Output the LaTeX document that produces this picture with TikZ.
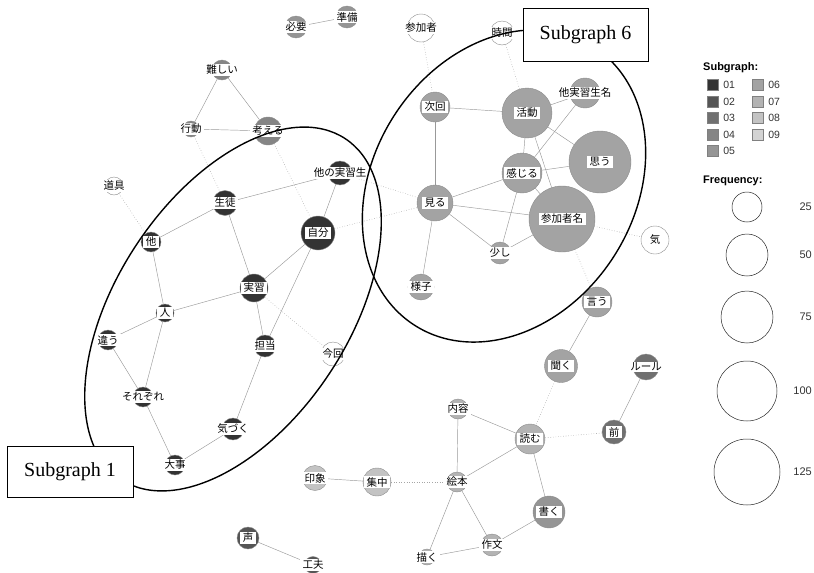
\documentclass[tikz,border=0pt]{standalone}
\usepackage{fontspec}
\setmainfont{Liberation Serif}
\setsansfont{Liberation Sans}
\newfontfamily\jpfont{Noto Sans CJK JP}
\usepackage{tikz}
\usetikzlibrary{shapes.geometric, backgrounds, positioning}
\definecolor{grpA}{HTML}{333333}
\definecolor{grpB}{HTML}{555555}
\definecolor{grpC}{HTML}{707070}
\definecolor{grpD}{HTML}{858585}
\definecolor{grpE}{HTML}{959595}
\definecolor{grpF}{HTML}{A3A3A3}
\definecolor{grpG}{HTML}{B3B3B3}
\definecolor{grpH}{HTML}{C3C3C3}
\definecolor{grpI}{HTML}{D3D3D3}
\tikzset{%
	word/.style={circle, draw=black!45, line width=0.4pt, inner sep=0pt},
	w1/.style={fill=grpA}, w2/.style={fill=grpB}, w3/.style={fill=grpC},
	w4/.style={fill=grpD}, w5/.style={fill=grpE}, w6/.style={fill=grpF},
	w7/.style={fill=grpG}, w8/.style={fill=grpH}, wn/.style={fill=white},
	tag/.style={fill=white, inner xsep=2.5pt, inner ysep=1.3pt,%
		font=\jpfont\fontsize{10.5}{10.5}\selectfont},
	link/.style={draw=black!40, line width=0.45pt},
	weak/.style={draw=black!35, dotted, line width=0.55pt},
	group/.style={draw, ellipse, line width=1.4pt, inner sep=0pt},
	caption/.style={draw, fill=white, line width=1pt, inner sep=0pt,%
		font=\fontsize{20}{20}\selectfont},
	keybox/.style={draw=black!50, line width=0.4pt, minimum size=11pt, inner sep=0pt},
	keytext/.style={anchor=west, inner sep=0pt, text=black!80, font=\sffamily\fontsize{10.5}{10.5}\selectfont},
	keyhead/.style={anchor=west, inner sep=0pt, font=\sffamily\bfseries\fontsize{11}{11}\selectfont},
	freq/.style={circle, draw=black!85, line width=0.5pt, inner sep=0pt}
}

\begin{document}
\begin{tikzpicture}[x=1pt, y=-1pt]
	\useasboundingbox (0,0) rectangle (814,573);

	% words
	\node[word, w5, minimum size=22pt, label={[tag]center:必要}] (hitsuyo) at (296,27) {};
	\node[word, w5, minimum size=22pt, label={[tag]center:準備}] (junbi) at (347,17) {};
	\node[word, wn, minimum size=28pt, label={[tag]center:参加者}] (sankasha) at (421,28) {};
	\node[word, wn, minimum size=24pt, label={[tag]center:時間}] (jikan) at (502,33) {};
	\node[word, w4, minimum size=20pt, label={[tag]center:難しい}] (muzukashii) at (222,70) {};
	\node[word, w4, minimum size=16pt, label={[tag]center:行動}] (kodo) at (191,129) {};
	\node[word, w4, minimum size=28pt, label={[tag]center:考える}] (kangaeru) at (268,131) {};
	\node[word, wn, minimum size=18pt, label={[tag]center:道具}] (dogu) at (114,186) {};
	\node[word, w1, minimum size=25pt, label={[tag]center:生徒}] (seito) at (225,203) {};
	\node[word, w1, minimum size=24pt, label={[tag]center:他の実習生}] (tanojisshusei) at (340,173) {};
	\node[word, w1, minimum size=34pt, label={[tag]center:自分}] (jibun) at (318,233) {};
	\node[word, w1, minimum size=20pt, label={[tag]center:他}] (hoka) at (151,242) {};
	\node[word, w1, minimum size=28pt, label={[tag]center:実習}] (jisshu) at (254,288) {};
	\node[word, w1, minimum size=18pt, label={[tag]center:人}] (hito) at (165,313) {};
	\node[word, w1, minimum size=20pt, label={[tag]center:違う}] (chigau) at (108,340) {};
	\node[word, w1, minimum size=22pt, label={[tag]center:担当}] (tanto) at (265,346) {};
	\node[word, wn, minimum size=24pt, label={[tag]center:今回}] (konkai) at (333,354) {};
	\node[word, w1, minimum size=20pt, label={[tag]center:それぞれ}] (sorezore) at (143,397) {};
	\node[word, w1, minimum size=22pt, label={[tag]center:気づく}] (kizuku) at (233,429) {};
	\node[word, w1, minimum size=20pt, label={[tag]center:大事}] (daiji) at (175,465) {};
	\node[word, w6, minimum size=30pt, label={[tag]center:次回}] (jikai) at (435,107) {};
	\node[word, w6, minimum size=50pt, label={[tag]center:活動}] (katsudo) at (527,113) {};
	\node[word, w6, minimum size=30pt, label={[tag]center:他実習生名}] (meisho) at (585,93) {};
	\node[word, w6, minimum size=62pt, label={[tag]center:思う}] (omou) at (600,162) {};
	\node[word, w6, minimum size=40pt, label={[tag]center:感じる}] (kanjiru) at (522,173) {};
	\node[word, w6, minimum size=36pt, label={[tag]center:見る}] (miru) at (435,203) {};
	\node[word, w6, minimum size=66pt, label={[tag]center:参加者名}] (sankameimei) at (562,219) {};
	\node[word, w6, minimum size=22pt, label={[tag]center:少し}] (sukoshi) at (500,253) {};
	\node[word, wn, minimum size=28pt, label={[tag]center:気}] (ki) at (655,240) {};
	\node[word, w6, minimum size=26pt, label={[tag]center:様子}] (yosu) at (421,287) {};
	\node[word, w6, minimum size=30pt, label={[tag]center:言う}] (iu) at (597,302) {};
	\node[word, w6, minimum size=33pt, label={[tag]center:聞く}] (kiku) at (561,366) {};
	\node[word, w3, minimum size=26pt, label={[tag]center:ルール}] (rule) at (646,367) {};
	\node[word, w3, minimum size=24pt, label={[tag]center:前}] (mae) at (614,432) {};
	\node[word, w7, minimum size=20pt, label={[tag]center:内容}] (naiyo) at (458,409) {};
	\node[word, w7, minimum size=30pt, label={[tag]center:読む}] (yomu) at (530,439) {};
	\node[word, w8, minimum size=25pt, label={[tag]center:印象}] (inshou) at (315,478) {};
	\node[word, w8, minimum size=28pt, label={[tag]center:集中}] (shuchu) at (377,482) {};
	\node[word, w7, minimum size=20pt, label={[tag]center:絵本}] (ehon) at (457,482) {};
	\node[word, w5, minimum size=32pt, label={[tag]center:書く}] (kaku) at (549,512) {};
	\node[word, w2, minimum size=22pt, label={[tag]center:声}] (koe) at (248,538) {};
	\node[word, w2, minimum size=17pt, label={[tag]center:工夫}] (kufu) at (313,565) {};
	\node[word, w7, minimum size=16pt, label={[tag]center:描く}] (egaku) at (427,557) {};
	\node[word, w7, minimum size=22pt, label={[tag]center:作文}] (sakubun) at (492,545) {};

	% co-occurrence edges
	\begin{pgfonlayer}{background}
		\draw[link] (hitsuyo) -- (junbi);
		\draw[weak] (sankasha) -- (jikai);
		\draw[weak] (jikan) -- (katsudo);
		\draw[link] (muzukashii) -- (kodo);
		\draw[link] (muzukashii) -- (kangaeru);
		\draw[link] (kodo) -- (kangaeru);
		\draw[weak] (kodo) -- (seito);
		\draw[weak] (kangaeru) -- (jibun);
		\draw[weak] (dogu) -- (hoka);
		\draw[link] (seito) -- (hoka);
		\draw[link] (seito) -- (tanojisshusei);
		\draw[link] (seito) -- (jisshu);
		\draw[link] (tanojisshusei) -- (jibun);
		\draw[weak] (tanojisshusei) -- (miru);
		\draw[weak] (jibun) -- (miru);
		\draw[link] (jibun) -- (jisshu);
		\draw[link] (jibun) -- (tanto);
		\draw[link] (hoka) -- (hito);
		\draw[link] (jisshu) -- (hito);
		\draw[link] (jisshu) -- (tanto);
		\draw[weak] (jisshu) -- (konkai);
		\draw[link] (hito) -- (chigau);
		\draw[link] (hito) -- (sorezore);
		\draw[link] (chigau) -- (sorezore);
		\draw[link] (sorezore) -- (daiji);
		\draw[link] (daiji) -- (kizuku);
		\draw[link] (kizuku) -- (tanto);
		\draw[link] (jikai) -- (katsudo);
		\draw[link] (jikai) -- (miru);
		\draw[link] (katsudo) -- (meisho);
		\draw[link] (katsudo) -- (kanjiru);
		\draw[link] (katsudo) -- (omou);
		\draw[link] (katsudo) -- (sankameimei);
		\draw[link] (meisho) -- (kanjiru);
		\draw[link] (kanjiru) -- (omou);
		\draw[link] (kanjiru) -- (miru);
		\draw[link] (kanjiru) -- (sukoshi);
		\draw[link] (kanjiru) -- (sankameimei);
		\draw[link] (miru) -- (sankameimei);
		\draw[link] (miru) -- (sukoshi);
		\draw[link] (miru) -- (yosu);
		\draw[link] (sukoshi) -- (sankameimei);
		\draw[weak] (sankameimei) -- (ki);
		\draw[weak] (sankameimei) -- (iu);
		\draw[link] (iu) -- (kiku);
		\draw[weak] (kiku) -- (yomu);
		\draw[link] (rule) -- (mae);
		\draw[weak] (mae) -- (yomu);
		\draw[link] (naiyo) -- (yomu);
		\draw[link] (naiyo) -- (ehon);
		\draw[link] (yomu) -- (ehon);
		\draw[link] (yomu) -- (kaku);
		\draw[link] (inshou) -- (shuchu);
		\draw[weak] (shuchu) -- (ehon);
		\draw[link] (ehon) -- (egaku);
		\draw[link] (ehon) -- (sakubun);
		\draw[link] (egaku) -- (sakubun);
		\draw[link] (sakubun) -- (kaku);
		\draw[link] (koe) -- (kufu);
	\end{pgfonlayer}

	% subgraph outlines
	\node[group, minimum width=408pt, minimum height=232pt, rotate=56.6] (sgone) at (233,309) {};
	\node[group, minimum width=331pt, minimum height=261pt, rotate=57.2] (sgsix) at (504,186) {};
	\node[caption, minimum width=126pt, minimum height=51pt] (capone) at (70,471.5) {Subgraph 1};
	\node[caption, minimum width=125pt, minimum height=53pt] (capsix) at (585.5,34.5) {Subgraph 6};

	% legend: subgraph
	\node[keyhead] (sghead) at (703,68) {Subgraph:};
	\node[keybox, fill=grpA] (k1) at (712.5,85) {};
	\node[keybox, fill=grpB] (k2) at (712.5,101.5) {};
	\node[keybox, fill=grpC] (k3) at (712.5,118) {};
	\node[keybox, fill=grpD] (k4) at (712.5,134.5) {};
	\node[keybox, fill=grpE] (k5) at (712.5,151) {};
	\node[keybox, fill=grpF] (k6) at (757.5,85) {};
	\node[keybox, fill=grpG] (k7) at (757.5,101.5) {};
	\node[keybox, fill=grpH] (k8) at (757.5,118) {};
	\node[keybox, fill=grpI] (k9) at (757.5,134.5) {};
	\node[keytext, right=5pt of k1] (t1) {01};
	\node[keytext, right=5pt of k2] (t2) {02};
	\node[keytext, right=5pt of k3] (t3) {03};
	\node[keytext, right=5pt of k4] (t4) {04};
	\node[keytext, right=5pt of k5] (t5) {05};
	\node[keytext, right=5pt of k6] (t6) {06};
	\node[keytext, right=5pt of k7] (t7) {07};
	\node[keytext, right=5pt of k8] (t8) {08};
	\node[keytext, right=5pt of k9] (t9) {09};

	% legend: frequency
	\node[keyhead] (fqhead) at (703,181) {Frequency:};
	\node[freq, minimum size=30pt] (f25) at (747,207) {};
	\node[freq, minimum size=42pt] (f50) at (747,255) {};
	\node[freq, minimum size=52pt] (f75) at (747,317) {};
	\node[freq, minimum size=60pt] (f100) at (747,391) {};
	\node[freq, minimum size=66pt] (f125) at (747,472) {};
	\node[keytext, anchor=east, font=\sffamily\fontsize{11}{11}\selectfont] (n25) at (812,207) {25};
	\node[keytext, anchor=east, font=\sffamily\fontsize{11}{11}\selectfont] (n50) at (812,255) {50};
	\node[keytext, anchor=east, font=\sffamily\fontsize{11}{11}\selectfont] (n75) at (812,317) {75};
	\node[keytext, anchor=east, font=\sffamily\fontsize{11}{11}\selectfont] (n100) at (812,391) {100};
	\node[keytext, anchor=east, font=\sffamily\fontsize{11}{11}\selectfont] (n125) at (812,472) {125};
\end{tikzpicture}
\end{document}
